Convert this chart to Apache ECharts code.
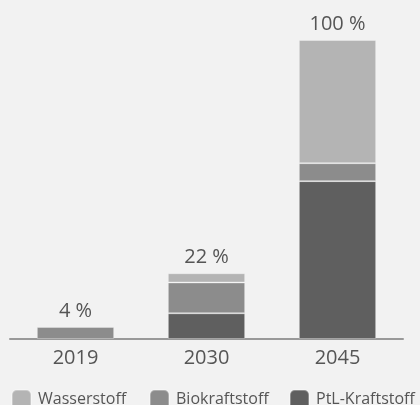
<!DOCTYPE html>
<html>
<head>
<meta charset="utf-8">
<script src="https://cdn.jsdelivr.net/npm/echarts@6/dist/echarts.min.js"></script>
<style>
  html, body { margin: 0; padding: 0; background: #f2f2f2; }
  #chart { width: 420px; height: 405px; }
</style>
</head>
<body>
<div id="chart"></div>
<script>
// Anteile alternativer Kraftstoffe je Stichjahr (in %)
const years = ['2019', '2030', '2045'];
const ptl = [null, 8.6, 52.8];
const bio = [4, 10.3, 6.0];
const wasserstoff = [null, 3.1, 41.2];
const totals = [4, 22, 100];

const colors = { 'Wasserstoff': '#b4b4b4', 'Biokraftstoff': '#8c8c8c', 'PtL-Kraftstoff': '#5f5f5f' };
const fontFamily = '"Open Sans", "Noto Sans", sans-serif';
const textColor = '#555555';

const chart = echarts.init(document.getElementById('chart'), null, { renderer: 'canvas' });

function stackPart(name, data) {
  return {
    name: name,
    type: 'bar',
    stack: 'anteil',
    data: data,
    barWidth: '59%',
    itemStyle: { color: colors[name], borderColor: 'rgba(255,255,255,0.3)', borderWidth: 1 },
    emphasis: { disabled: true }
  };
}

function legendAt(name, left) {
  return {
    data: [name],
    top: 389,
    left: left,
    padding: 0,
    itemWidth: 19,
    itemHeight: 19,
    itemGap: 0,
    selectedMode: false,
    textStyle: { color: textColor, fontSize: 16, fontFamily: fontFamily, padding: [0, 0, 0, 2] }
  };
}

chart.setOption({
  backgroundColor: '#f2f2f2',
  animation: false,
  grid: { left: 10, right: 17, top: 40, bottom: 66, containLabel: false },
  legend: [legendAt('Wasserstoff', 11), legendAt('Biokraftstoff', 149), legendAt('PtL-Kraftstoff', 289)],
  xAxis: {
    type: 'category',
    data: years,
    axisLine: { lineStyle: { color: '#999999', width: 2 } },
    axisTick: { show: false },
    axisLabel: { color: textColor, fontSize: 20, fontFamily: fontFamily, margin: 9 }
  },
  yAxis: {
    type: 'value',
    min: 0,
    max: 100,
    show: false,
    splitLine: { show: false }
  },
  series: [
    stackPart('PtL-Kraftstoff', ptl),
    stackPart('Biokraftstoff', bio),
    stackPart('Wasserstoff', wasserstoff),
    {
      name: 'Summe',
      type: 'bar',
      stack: 'anteil',
      data: totals.map(() => 0),
      barWidth: '59%',
      itemStyle: { color: 'transparent', borderWidth: 0 },
      emphasis: { disabled: true },
      label: {
        show: true,
        position: 'top',
        distance: 6,
        color: textColor,
        fontSize: 20,
        fontFamily: fontFamily,
        formatter: (p) => totals[p.dataIndex] + ' %'
      }
    }
  ]
});
</script>
</body>
</html>
